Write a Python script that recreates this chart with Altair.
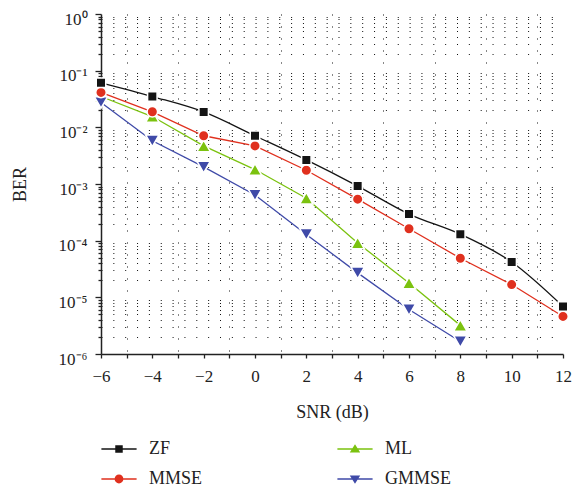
import altair as alt
import pandas as pd

# SNR grid (dB) and bit error rates per detector
snr_full = [-6, -4, -2, 0, 2, 4, 6, 8, 10, 12]
snr_short = [-6, -4, -2, 0, 2, 4, 6, 8]

ber_zf = [0.061, 0.035, 0.0187, 0.0071, 0.00266, 0.00092, 2.95e-4, 1.3e-4, 4.2e-5, 6.9e-6]
ber_mmse = [0.0413, 0.0188, 0.0071, 0.0047, 0.00175, 5.4e-4, 1.62e-4, 4.9e-5, 1.68e-5, 4.6e-6]
ber_ml = [0.035, 0.0155, 0.0047, 0.0018, 5.6e-4, 9.1e-5, 1.79e-5, 3.2e-6]
ber_gmmse = [0.0275, 0.0058, 0.002, 6.4e-4, 1.29e-4, 2.7e-5, 6.1e-6, 1.66e-6]

# legend fills column by column, two columns
series = ["ZF", "MMSE", "ML", "GMMSE"]
colors = ["#141414", "#e0301e", "#7bc20f", "#3f4aa8"]
shapes = ["square", "circle", "triangle-up", "triangle-down"]

# legend symbols: a short line through each marker
line_path = "M-3.2,-0.12H3.2V0.12H-3.2Z"
legend_paths = [
    line_path + " M-0.68,-0.68H0.68V0.68H-0.68Z",
    line_path + " M-0.8,0A0.8,0.8 0 1,1 0.8,0A0.8,0.8 0 1,1 -0.8,0Z",
    line_path + " M0,-0.85L0.95,0.65H-0.95Z",
    line_path + " M0,0.85L-0.95,-0.65H0.95Z",
]

rows = []
for name, xs, ys in [
    ("ZF", snr_full, ber_zf),
    ("MMSE", snr_full, ber_mmse),
    ("ML", snr_short, ber_ml),
    ("GMMSE", snr_short, ber_gmmse),
]:
    for x, y in zip(xs, ys):
        rows.append({"series": name, "snr": x, "ber": y})
df = pd.DataFrame(rows)

decades = [1.0, 0.1, 0.01, 0.001, 1e-4, 1e-5, 1e-6]
decade_labels = ["10⁰", "10⁻¹", "10⁻²", "10⁻³", "10⁻⁴", "10⁻⁵", "10⁻⁶"]
y_ticks = list(decades)
for e in range(1, 7):
    for m in range(2, 10):
        y_ticks.append(round(m * 10 ** (-e), 12))

dec_js = "[" + ",".join(repr(v) for v in decades) + "]"
lab_js = "[" + ",".join("'" + s + "'" for s in decade_labels) + "]"
is_decade = f"indexof({dec_js}, datum.value) >= 0"

FONT = "Liberation Serif"

legend = alt.Legend(
    title=None,
    orient="none",
    legendX=9,
    legendY=426,
    columns=2,
    columnPadding=134,
    rowPadding=12,
    padding=0,
    symbolSize=121,
    symbolStrokeWidth=0,
    symbolOpacity=1,
    labelOffset=21,
    labelFont=FONT,
    labelFontSize=18,
    labelColor="#222222",
)

x_enc = alt.X(
    "snr:Q",
    scale=alt.Scale(domain=[-6, 12], nice=False),
    axis=alt.Axis(
        title="SNR (dB)",
        values=list(range(-6, 13)),
        labelExpr="datum.value % 2 == 0 ? replace(datum.label, '-', '−') : ''",
        tickSize=4,
        labelPadding=10,
        labelBaseline="top",
        labelFlush=False,
        grid=True,
        gridDash=[1, 11],
        gridColor="#111111",
        gridWidth=1,
        gridOpacity={"condition": {"test": "datum.value % 2 != 0", "value": 1}, "value": 0},
        titleBaseline="alphabetic",
        titleY=63,
    ),
)

y_enc = alt.Y(
    "ber:Q",
    scale=alt.Scale(type="log", domain=[1e-6, 1], nice=False),
    axis=alt.Axis(
        title="BER",
        values=y_ticks,
        labelExpr=f"{is_decade} ? {lab_js}[indexof({dec_js}, datum.value)] : ''",
        tickSize={"condition": {"test": is_decade, "value": 6}, "value": 3},
        labelPadding=8,
        labelBaseline="alphabetic",
        labelOffset=10,
        labelFlush=False,
        grid=True,
        gridDash=[1, 10.85],
        gridColor="#111111",
        gridWidth=1,
        gridOpacity={"condition": {"test": is_decade, "value": 0}, "value": 1},
        titleAngle=270,
        titleBaseline="alphabetic",
        titleX=-76,
    ),
)

color_scale = alt.Scale(domain=series, range=colors)
stroke_enc = alt.Stroke("series:N", scale=color_scale, legend=None)

# ZF is drawn as a smoothed curve, the other detectors as straight segments
line_zf = (
    alt.Chart(df)
    .transform_filter("datum.series === 'ZF'")
    .mark_line(strokeWidth=1.3, interpolate="monotone")
    .encode(x=x_enc, y=y_enc, stroke=stroke_enc, detail="series:N")
)
line_rest = (
    alt.Chart(df)
    .transform_filter("datum.series !== 'ZF'")
    .mark_line(strokeWidth=1.3)
    .encode(x=x_enc, y=y_enc, stroke=stroke_enc, detail="series:N")
)


def markers(test, size):
    # one marker group per symbol size
    return (
        alt.Chart(df)
        .transform_filter(test)
        .mark_point(filled=True, opacity=1, size=size, stroke="white", strokeWidth=1.5)
        .encode(
            x=x_enc,
            y=y_enc,
            color=alt.Color("series:N", scale=color_scale, legend=None),
            shape=alt.Shape("series:N", scale=alt.Scale(domain=series, range=shapes), legend=None),
        )
    )


pts_square = markers("datum.series === 'ZF'", 90)
pts_circle = markers("datum.series === 'MMSE'", 110)
pts_tri = markers("datum.series === 'ML' || datum.series === 'GMMSE'", 180)

# legend-only layer: no rows survive the filter, its scales carry the key
key_layer = (
    alt.Chart(df)
    .transform_filter("datum.snr > 100")
    .mark_point(filled=True, opacity=1)
    .encode(
        x=x_enc,
        y=y_enc,
        color=alt.Color("series:N", scale=color_scale, legend=legend),
        shape=alt.Shape("series:N", scale=alt.Scale(domain=series, range=legend_paths), legend=legend),
    )
)

chart = (
    alt.layer(line_zf, line_rest, pts_tri, pts_circle, pts_square, key_layer)
    .resolve_scale(color="independent", shape="independent")
    .properties(
        width=462,
        height=340,
        autosize="none",
        padding={"left": 101, "top": 14, "right": 10, "bottom": 135},
        background="white",
    )
    .configure_view(stroke=None)
    .configure_axis(
        labelFont=FONT,
        labelFontSize=17,
        labelColor="#222222",
        titleFont=FONT,
        titleFontSize=18,
        titleFontWeight="normal",
        titleColor="#222222",
        domainColor="#222222",
        domainWidth=1.5,
        tickColor="#222222",
        tickWidth=1.3,
    )
)

chart.save("out.html", embed_options={"renderer": "svg", "actions": False})
